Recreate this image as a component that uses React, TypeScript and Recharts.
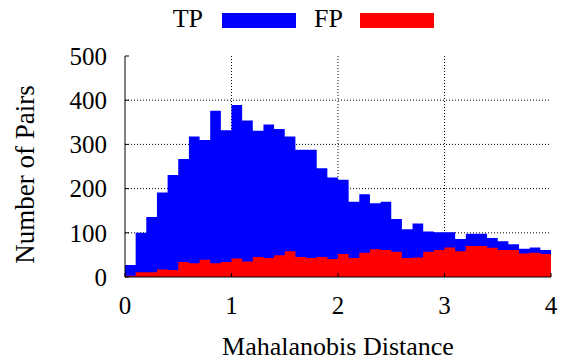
import {
  ComposedChart,
  Area,
  XAxis,
  YAxis,
  CartesianGrid,
} from "recharts";

// histogram bins of width 0.1 over [0, 4)
const binWidth = 0.1;
const tpCounts = [
  27, 100, 136, 191, 231, 267, 318, 310, 376, 332,
  389, 354, 331, 345, 335, 318, 288, 288, 246, 225,
  220, 170, 187, 167, 170, 131, 108, 121, 103, 101,
  101, 86, 98, 98, 88, 81, 74, 64, 67, 61,
];
const fpCounts = [
  3, 11, 11, 17, 16, 34, 31, 39, 31, 34,
  42, 35, 45, 43, 49, 58, 45, 43, 45, 41,
  52, 43, 55, 63, 61, 57, 43, 44, 57, 61,
  67, 58, 70, 70, 66, 61, 61, 53, 55, 52,
];
const xTicks = [0, 1, 2, 3, 4];
const yTicks = [0, 100, 200, 300, 400, 500];

// step data: one point per bin start, plus the closing edge at x=4
const data = tpCounts.map((tp, i) => ({
  x: +(i * binWidth).toFixed(2),
  tp,
  fp: fpCounts[i],
}));
data.push({
  x: +(tpCounts.length * binWidth).toFixed(2),
  tp: tpCounts[tpCounts.length - 1],
  fp: fpCounts[fpCounts.length - 1],
});

const FONT = "Liberation Serif";
const tickStyle = { fontSize: 25, fill: "#000", style: { fontFamily: FONT } };

function LegendOverlay() {
  return (
    <svg
      width={567}
      height={40}
      style={{ position: "absolute", left: 0, top: 0, pointerEvents: "none", fontFamily: FONT }}
    >
      <text x={203} y={27} textAnchor="end" fontSize={26} fill="#000">
        TP
      </text>
      <rect x={222} y={13} width={74} height={15} fill="#0000ff" />
      <text x={343} y={27} textAnchor="end" fontSize={26} fill="#000">
        FP
      </text>
      <rect x={360} y={13} width={74} height={15} fill="#ff0000" />
    </svg>
  );
}

export default function App() {
  return (
    <div
      style={{
        position: "absolute",
        left: 0,
        top: 0,
        width: 567,
        height: 360,
        background: "#fff",
        fontFamily: FONT,
      }}
    >
      <ComposedChart
        width={567}
        height={360}
        data={data}
        margin={{ top: 56, right: 16, bottom: 0, left: 0 }}
        style={{ fontFamily: FONT }}
      >
        <Area
          type="stepAfter"
          dataKey="tp"
          stroke="none"
          fill="#0000ff"
          fillOpacity={1}
          isAnimationActive={false}
        />
        <Area
          type="stepAfter"
          dataKey="fp"
          stroke="none"
          fill="#ff0000"
          fillOpacity={1}
          isAnimationActive={false}
        />
        <CartesianGrid
          stroke="#000"
          strokeDasharray="1 2"
          horizontalValues={[100, 200, 300, 400]}
          verticalValues={[1, 2, 3]}
        />
        <XAxis
          dataKey="x"
          type="number"
          domain={[0, 4]}
          ticks={xTicks}
          height={83}
          stroke="#000"
          tickSize={-4}
          tickMargin={23}
          tick={tickStyle}
          label={({ viewBox }: any) => (
            <text
              x={viewBox.x + viewBox.width / 2}
              y={viewBox.y + 78}
              textAnchor="middle"
              fontSize={26}
              fill="#000"
              style={{ fontFamily: FONT }}
            >
              Mahalanobis Distance
            </text>
          )}
        />
        <XAxis
          xAxisId="top"
          orientation="top"
          dataKey="x"
          type="number"
          domain={[0, 4]}
          ticks={xTicks}
          height={0}
          stroke="#000"
          tickSize={-4}
          tick={false}
        />
        <YAxis
          type="number"
          domain={[0, 500]}
          ticks={yTicks}
          width={125}
          stroke="#000"
          tickSize={-4}
          tickMargin={22}
          tick={tickStyle}
          label={({ viewBox }: any) => (
            <text
              x={25}
              y={viewBox.y + viewBox.height / 2 + 8}
              transform={`rotate(-90, 25, ${viewBox.y + viewBox.height / 2 + 8})`}
              textAnchor="middle"
              dominantBaseline="central"
              fontSize={27}
              fill="#000"
              style={{ fontFamily: FONT }}
            >
              Number of Pairs
            </text>
          )}
        />
        <YAxis
          yAxisId="right"
          orientation="right"
          type="number"
          domain={[0, 500]}
          ticks={yTicks}
          width={0}
          stroke="#000"
          tickSize={-4}
          tick={false}
        />
      </ComposedChart>
      <LegendOverlay />
    </div>
  );
}
